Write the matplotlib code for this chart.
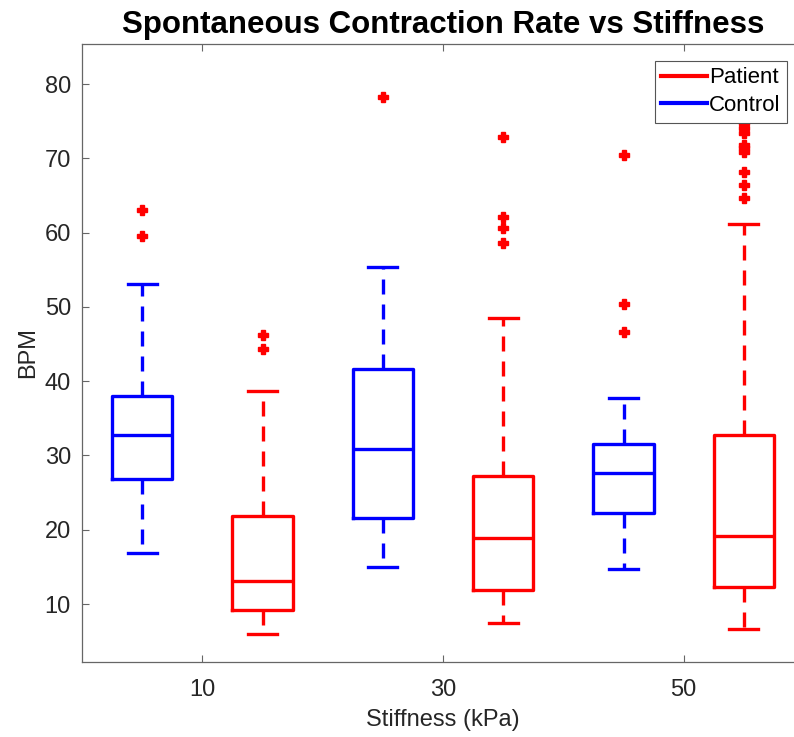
import matplotlib.pyplot as plt

plt.rcParams['font.family'] = ['Liberation Sans', 'DejaVu Sans']

# box order: control/patient at 10, 30, 50 kPa
groups = ['Control', 'Patient', 'Control', 'Patient', 'Control', 'Patient']
positions = [5, 15, 25, 35, 45, 55]
medians = [32.7, 13.1, 30.9, 18.9, 27.7, 19.2]
q1 = [26.9, 9.2, 21.6, 11.9, 22.3, 12.3]
q3 = [38.0, 21.9, 41.7, 27.3, 31.5, 32.8]
whislo = [16.9, 5.9, 15.0, 7.4, 14.7, 6.6]
whishi = [53.1, 38.7, 55.4, 48.5, 37.8, 61.2]
fliers = [
    [63.1, 59.5],
    [46.2, 44.3],
    [78.2],
    [72.9, 62.1, 60.6, 58.6],
    [70.4, 50.4, 46.6],
    [74.7, 74.1, 73.4, 71.8, 71.4, 70.9, 68.2, 66.4, 64.6],
]
stiffness = [10, 30, 50]

colors = {'Patient': '#ff0000', 'Control': '#0000ff'}
flier_color = '#ff0000'

fig = plt.figure(figsize=(7.94, 7.37), dpi=100)
# axes runs past the right edge of the picture (cropped original)
ax = fig.add_axes([0.1033, 0.1018, 0.9093, 0.8385])

for i, g in enumerate(groups):
    c = colors[g]
    st = [{'med': medians[i], 'q1': q1[i], 'q3': q3[i],
           'whislo': whislo[i], 'whishi': whishi[i], 'fliers': fliers[i]}]
    ax.bxp(st, positions=[positions[i]], widths=5, capwidths=2.4,
           boxprops=dict(color=c, linewidth=2.4),
           medianprops=dict(color=c, linewidth=2.4),
           whiskerprops=dict(color=c, linewidth=2.4, linestyle=(0, (4.5, 3))),
           capprops=dict(color=c, linewidth=2.4),
           flierprops=dict(marker='P', markersize=6.5, markerfacecolor=flier_color,
                           markeredgecolor=flier_color, linestyle='none'),
           manage_ticks=False)

ax.set_xlim(0, 60)
ax.set_ylim(2.2, 85.4)
ax.set_xticks(stiffness)
ax.set_xticklabels([str(s) for s in stiffness])
ax.set_yticks(range(10, 90, 10))

for sp in ax.spines.values():
    sp.set_color('#666666')
    sp.set_linewidth(0.9)
ax.spines['right'].set_visible(False)
ax.tick_params(direction='in', top=True, right=False, length=5, width=0.8,
               color='#666666', labelsize=17, labelcolor='#262626')
ax.tick_params(axis='x', pad=12)
ax.tick_params(axis='y', pad=8)

ax.set_xlabel('Stiffness (kPa)', fontsize=17, color='#262626', labelpad=6)
ax.set_ylabel('BPM', fontsize=17, color='#262626', labelpad=4)
ax.set_title('Spontaneous Contraction Rate vs Stiffness', fontsize=22.5,
             fontweight='bold', pad=8)

h_p, = ax.plot([], [], color=colors['Patient'], linewidth=3)
h_c, = ax.plot([], [], color=colors['Control'], linewidth=3)
leg = ax.legend([h_p, h_c], ['Patient', 'Control'], loc='upper right',
                fontsize=16, handlelength=2.05, handletextpad=0.1,
                borderaxespad=0.75, borderpad=0.3, labelspacing=0.3,
                fancybox=False, framealpha=1, edgecolor='#555555')
leg.get_frame().set_linewidth(0.8)

fig.savefig('out.png', dpi=100)
